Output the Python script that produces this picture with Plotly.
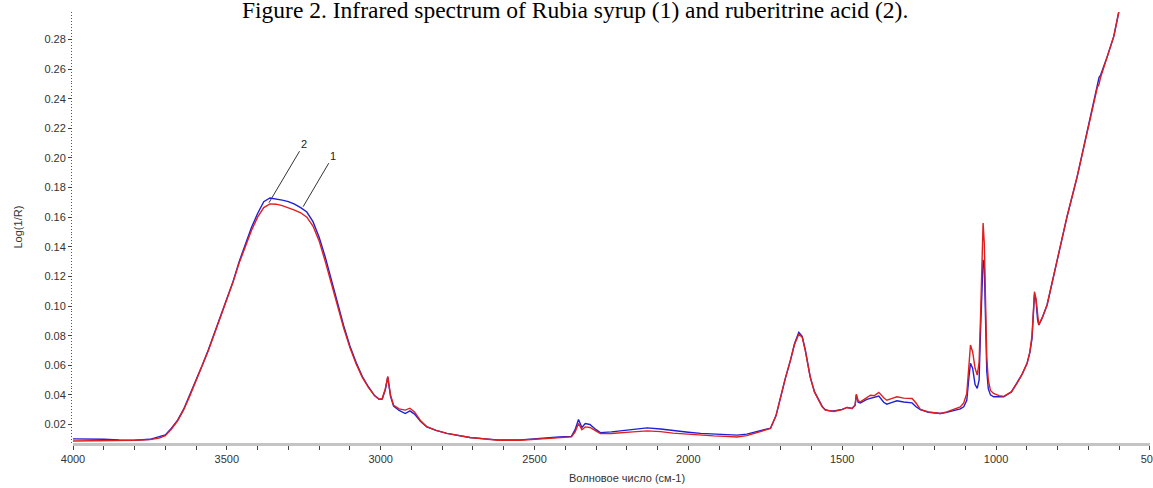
import plotly.graph_objects as go

wavenumber = [4000, 3950, 3900, 3850, 3800, 3750, 3720, 3700, 3680, 3660, 3640, 3620, 3600, 3580, 3560,
              3540, 3520, 3500, 3480, 3460, 3440, 3420, 3400, 3380, 3360, 3340, 3320, 3300, 3280, 3260,
              3240, 3220, 3200, 3180, 3160, 3140, 3120, 3100, 3080, 3060, 3040, 3020, 3005, 2995, 2985,
              2977, 2968, 2958, 2940, 2920, 2905, 2890, 2870, 2850, 2820, 2785, 2750, 2710, 2660, 2620,
              2546, 2492, 2420, 2380, 2368, 2357, 2346, 2335, 2320, 2300, 2286, 2250, 2220, 2180, 2134,
              2090, 2050, 2000, 1960, 1918, 1880, 1842, 1810, 1788, 1760, 1733, 1715, 1700, 1685, 1668,
              1655, 1641, 1630, 1620, 1604, 1590, 1582, 1565, 1555, 1540, 1527, 1500, 1484, 1468, 1458,
              1454, 1448, 1441, 1420, 1408, 1395, 1381, 1365, 1355, 1340, 1322, 1300, 1282, 1273, 1260,
              1246, 1220, 1200, 1181, 1160, 1140, 1116, 1105, 1095, 1088, 1083, 1076, 1068, 1061, 1055,
              1050, 1046, 1042, 1038, 1034, 1030, 1025, 1018, 1008, 990, 975, 950, 932, 915, 899,
              890, 883, 878, 875, 870, 865, 861, 850, 834, 801, 769, 736, 704, 671, 665,
              660, 650, 638, 617, 601]

syrup_1 = [0.0089, 0.0089, 0.0091, 0.0092, 0.0094, 0.0098, 0.0108, 0.0125, 0.0170, 0.0225, 0.0300, 0.0395, 0.0495, 0.0595, 0.0700,
           0.0815, 0.0930, 0.1040, 0.1160, 0.1290, 0.1405, 0.1510, 0.1600, 0.1665, 0.1690, 0.1688, 0.1678, 0.1665, 0.1648, 0.1630,
           0.1600, 0.1540, 0.1440, 0.1300, 0.1150, 0.0995, 0.0850, 0.0720, 0.0610, 0.0520, 0.0450, 0.0395, 0.0370, 0.0375, 0.0440,
           0.0525, 0.0400, 0.0330, 0.0305, 0.0297, 0.0310, 0.0285, 0.0225, 0.0185, 0.0160, 0.0140, 0.0125, 0.0112, 0.0102, 0.0094,
           0.0094, 0.0100, 0.0110, 0.0116, 0.0150, 0.0207, 0.0165, 0.0184, 0.0180, 0.0155, 0.0138, 0.0139, 0.0142, 0.0150, 0.0157,
           0.0152, 0.0142, 0.0133, 0.0126, 0.0123, 0.0120, 0.0116, 0.0125, 0.0140, 0.0155, 0.0173, 0.0260, 0.0387, 0.0510, 0.0635,
           0.0740, 0.0810, 0.0790, 0.0700, 0.0522, 0.0420, 0.0387, 0.0320, 0.0297, 0.0290, 0.0288, 0.0300, 0.0315, 0.0308, 0.0330,
           0.0405, 0.0360, 0.0353, 0.0385, 0.0398, 0.0395, 0.0417, 0.0380, 0.0364, 0.0375, 0.0387, 0.0378, 0.0380, 0.0376, 0.0345,
           0.0302, 0.0285, 0.0278, 0.0274, 0.0285, 0.0300, 0.0319, 0.0345, 0.0410, 0.0600, 0.0737, 0.0690, 0.0580, 0.0534, 0.0620,
           0.0950, 0.1350, 0.1560, 0.1420, 0.1000, 0.0650, 0.0500, 0.0430, 0.0410, 0.0395, 0.0390, 0.0420, 0.0477, 0.0540, 0.0613,
           0.0690, 0.0800, 0.1000, 0.1097, 0.1050, 0.0920, 0.0872, 0.0920, 0.1007, 0.1312, 0.1605, 0.1876, 0.2170, 0.2474, 0.2500,
           0.2545, 0.2610, 0.2688, 0.2823, 0.2986]

acid_2 = [0.0103, 0.0103, 0.0100, 0.0095, 0.0094, 0.0100, 0.0115, 0.0130, 0.0175, 0.0230, 0.0305, 0.0400, 0.0500, 0.0600, 0.0705,
          0.0820, 0.0935, 0.1045, 0.1165, 0.1300, 0.1420, 0.1530, 0.1625, 0.1705, 0.1730, 0.1725, 0.1715, 0.1705, 0.1688, 0.1665,
          0.1635, 0.1570, 0.1465, 0.1330, 0.1170, 0.1010, 0.0865, 0.0730, 0.0620, 0.0525, 0.0455, 0.0395, 0.0370, 0.0372, 0.0435,
          0.0520, 0.0390, 0.0325, 0.0295, 0.0274, 0.0292, 0.0270, 0.0220, 0.0184, 0.0160, 0.0140, 0.0125, 0.0112, 0.0103, 0.0096,
          0.0096, 0.0106, 0.0116, 0.0120, 0.0165, 0.0234, 0.0180, 0.0207, 0.0200, 0.0165, 0.0145, 0.0150, 0.0157, 0.0166, 0.0177,
          0.0170, 0.0158, 0.0148, 0.0140, 0.0134, 0.0130, 0.0128, 0.0135, 0.0145, 0.0160, 0.0175, 0.0260, 0.0387, 0.0510, 0.0635,
          0.0745, 0.0822, 0.0795, 0.0705, 0.0522, 0.0420, 0.0387, 0.0322, 0.0300, 0.0292, 0.0292, 0.0302, 0.0315, 0.0308, 0.0330,
          0.0398, 0.0350, 0.0345, 0.0370, 0.0376, 0.0382, 0.0392, 0.0350, 0.0337, 0.0348, 0.0360, 0.0352, 0.0350, 0.0346, 0.0320,
          0.0300, 0.0283, 0.0278, 0.0274, 0.0282, 0.0293, 0.0305, 0.0320, 0.0364, 0.0520, 0.0613, 0.0580, 0.0470, 0.0444, 0.0500,
          0.0850, 0.1150, 0.1312, 0.1260, 0.0900, 0.0560, 0.0440, 0.0400, 0.0387, 0.0385, 0.0387, 0.0420, 0.0477, 0.0540, 0.0613,
          0.0685, 0.0780, 0.0980, 0.1080, 0.1040, 0.0910, 0.0872, 0.0920, 0.1007, 0.1312, 0.1605, 0.1876, 0.2170, 0.2474, 0.2545,
          0.2560, 0.2615, 0.2688, 0.2823, 0.2986]

title_text = "Figure 2. Infrared spectrum of Rubia syrup (1) and ruberitrine acid (2)."
x_title = "Волновое число (см-1)"
y_title = "Log(1/R)"
x_ticks = [4000, 3500, 3000, 2500, 2000, 1500, 1000, 500]
y_ticks = [0.02, 0.04, 0.06, 0.08, 0.10, 0.12, 0.14, 0.16, 0.18, 0.20, 0.22, 0.24, 0.26, 0.28]

fig = go.Figure()
fig.add_trace(go.Scatter(x=wavenumber, y=acid_2, mode="lines", name="2",
                         line=dict(color="#1f1fd6", width=1.4)))
fig.add_trace(go.Scatter(x=wavenumber, y=syrup_1, mode="lines", name="1",
                         line=dict(color="#e01e1e", width=1.4)))

tickfont = dict(family="Liberation Sans, Arial", size=11, color="#333333")

fig.update_layout(
    width=1153, height=488,
    margin=dict(l=73, r=3, t=12, b=45, autoexpand=False),
    paper_bgcolor="white", plot_bgcolor="white",
    showlegend=False,
    xaxis=dict(range=[4000, 499.5], tickvals=x_ticks, ticktext=[str(v) for v in x_ticks],
               automargin=False,
               showgrid=False, zeroline=False, showline=True, linecolor="#c4c4c4", linewidth=3,
               ticks="outside", ticklen=4, tickcolor="#444444", tickwidth=1,
               ticklabeloverflow="allow",
               minor=dict(dtick=100, ticks="outside", ticklen=4, tickcolor="#444444", tickwidth=1, showgrid=False),
               tickfont=tickfont),
    yaxis=dict(range=[0.0075, 0.2986], tickvals=y_ticks, ticktext=[f"{v:.2f}" for v in y_ticks],
               automargin=False,
               showgrid=False, zeroline=False, showline=False,
               ticks="outside", ticklen=4, tickcolor="#444444", tickwidth=1,
               minor=dict(dtick=0.002, tick0=0, ticks="outside", ticklen=1.5, tickcolor="#555555", tickwidth=1, showgrid=False),
               tickfont=tickfont),
)

# title (partly clipped at top, as in the reference)
fig.add_annotation(text=title_text, xref="paper", yref="paper", x=(575 - 73) / 1077, y=(443 - 10) / 431,
                   xanchor="center", yanchor="middle", showarrow=False,
                   font=dict(family="Liberation Serif, Times New Roman", size=23.5, color="black"))
# axis titles
fig.add_annotation(text=x_title, xref="paper", yref="paper", x=(627 - 73) / 1077, y=(443 - 478) / 431,
                   xanchor="center", yanchor="middle", showarrow=False,
                   font=dict(family="Liberation Sans, Arial", size=11, color="#333333"))
fig.add_annotation(text=y_title, xref="paper", yref="paper", x=(17 - 73) / 1077, y=0.5,
                   xanchor="center", yanchor="middle", showarrow=False, textangle=-90,
                   font=dict(family="Liberation Sans, Arial", size=11, color="#333333"))
# curve labels with leader lines
fig.add_annotation(text="2", x=3363, y=0.1698, ax=35, ay=-59, showarrow=True, arrowhead=0,
                   arrowwidth=1, arrowcolor="#333333",
                   font=dict(family="Liberation Sans, Arial", size=11, color="#222222"))
fig.add_annotation(text="1", x=3252, y=0.1671, ax=30, ay=-51, showarrow=True, arrowhead=0,
                   arrowwidth=1, arrowcolor="#333333",
                   font=dict(family="Liberation Sans, Arial", size=11, color="#222222"))

fig.write_html("out.html", config={"displayModeBar": False},
               post_script="document.body.style.margin='0';document.body.style.overflow='hidden';")
